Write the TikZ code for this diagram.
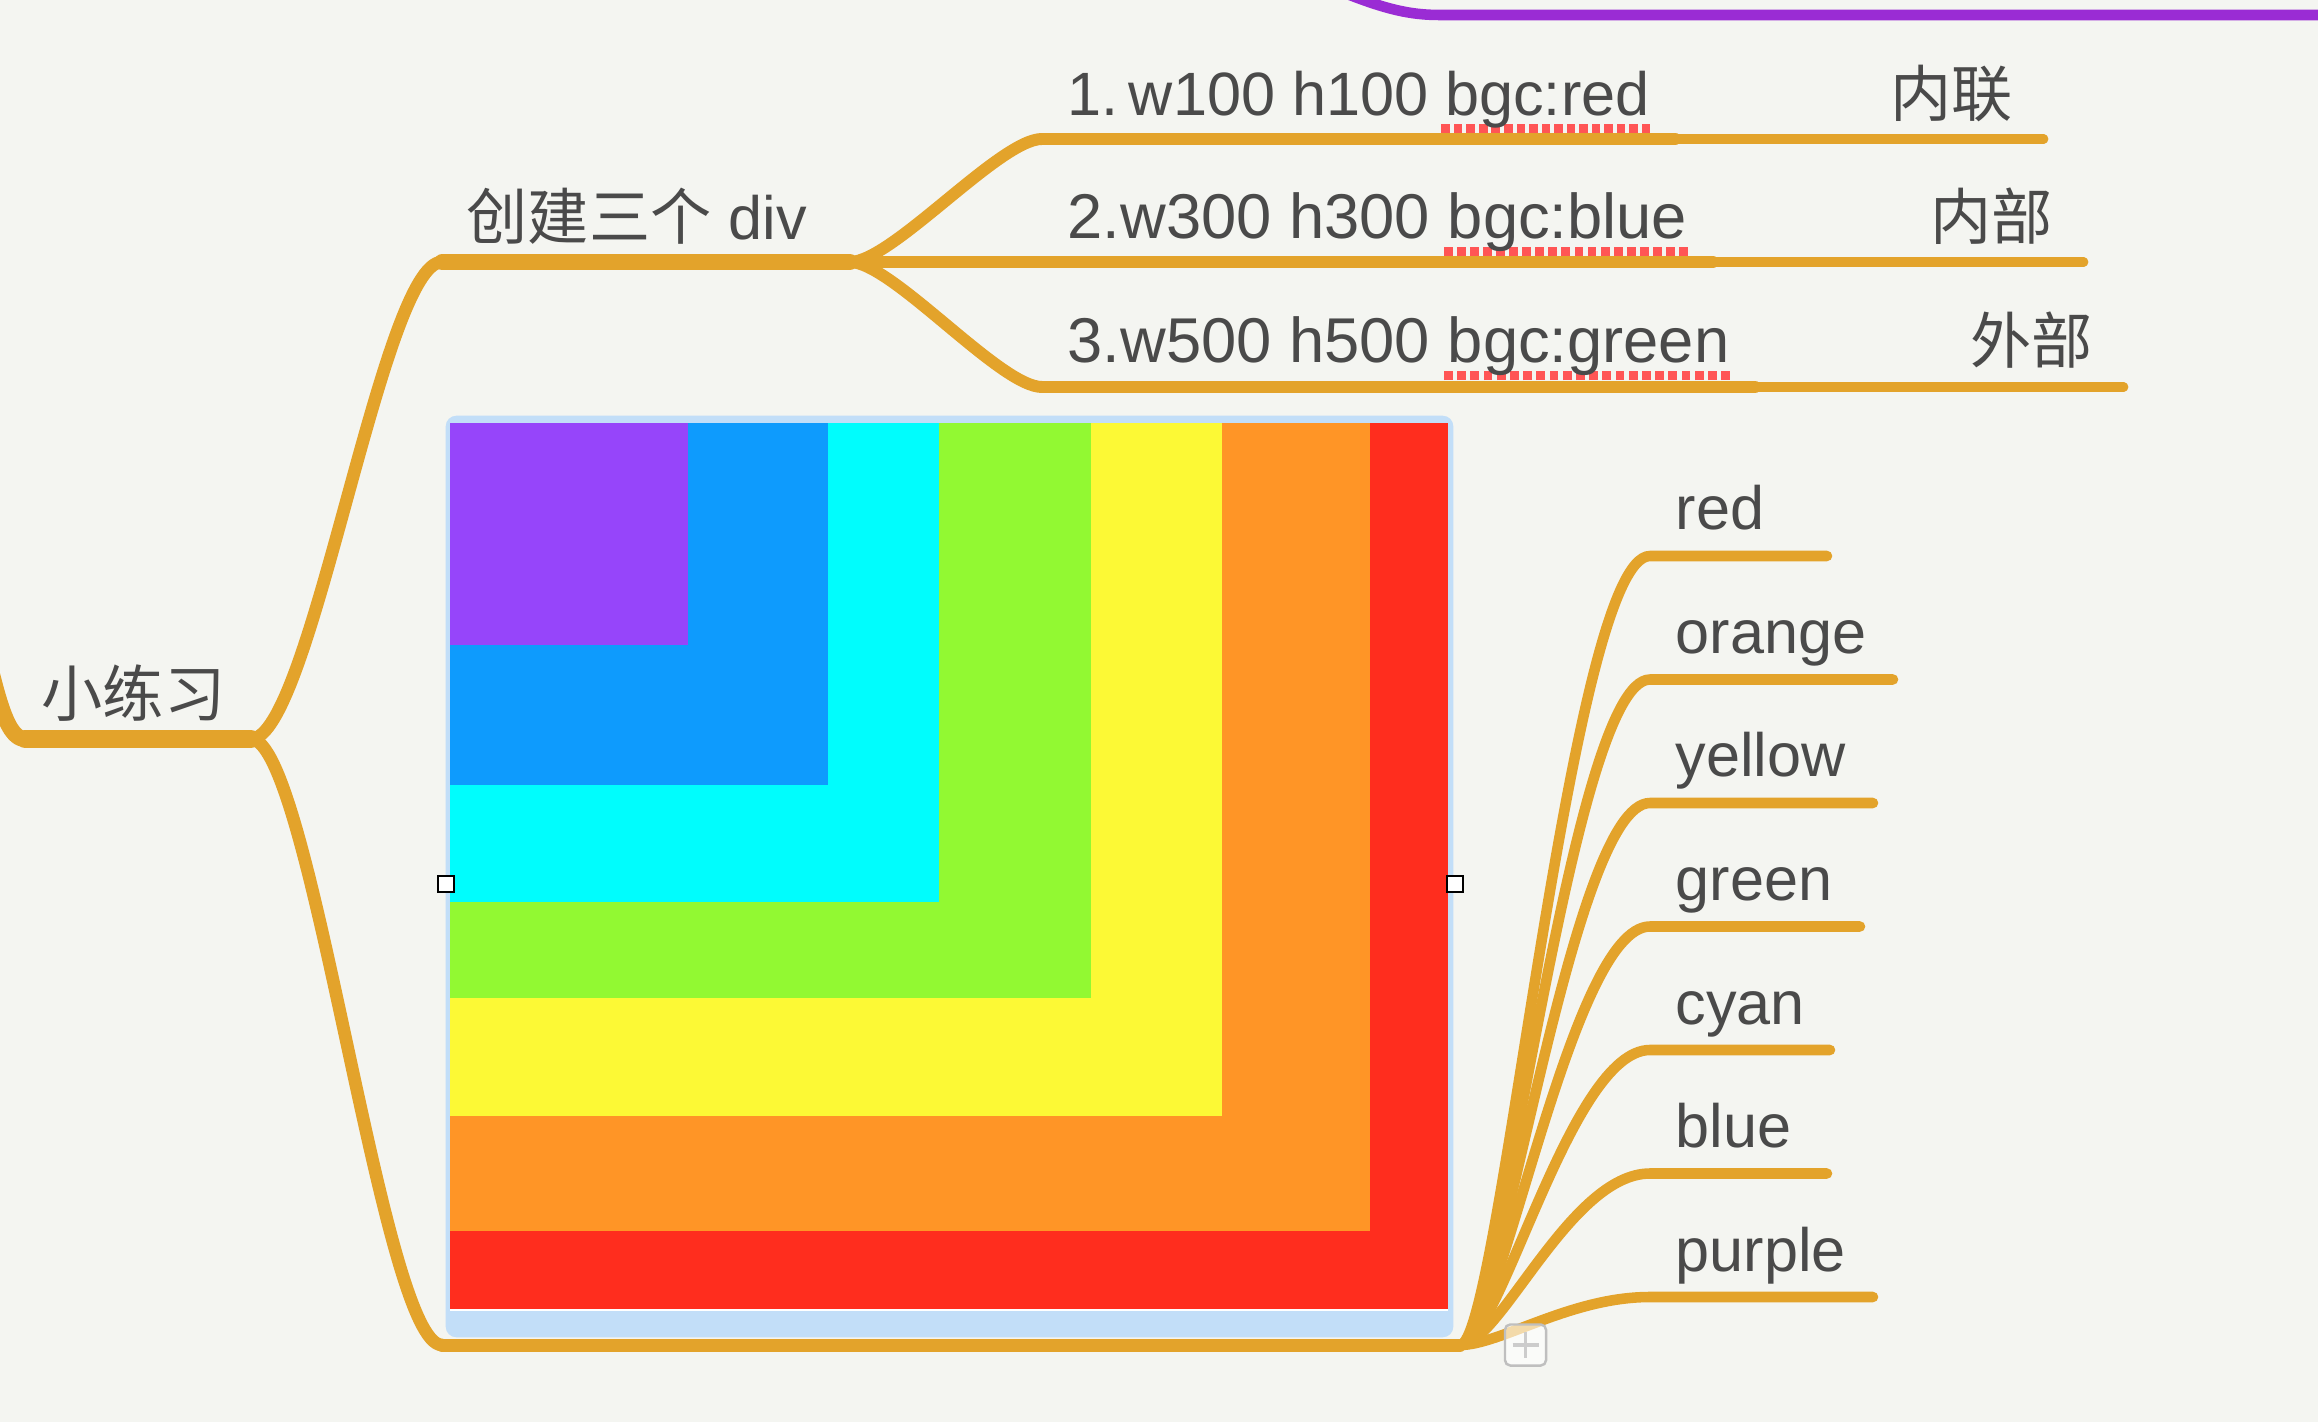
\documentclass[tikz,border=0pt]{standalone}
\usepackage{fontspec}
\setmainfont{Liberation Sans}
\newfontfamily\cjk{Noto Sans CJK SC}
\definecolor{canvas}{HTML}{F4F5F1}
\definecolor{mapgold}{HTML}{E3A32B}
\definecolor{ink}{HTML}{4A4A4A}
\definecolor{topline}{HTML}{9A2CD4}
\definecolor{frame}{HTML}{C2DEF8}
\definecolor{spell}{HTML}{FF5555}
\definecolor{boxred}{HTML}{FF2D1E}
\definecolor{boxorange}{HTML}{FF9526}
\definecolor{boxyellow}{HTML}{FCF935}
\definecolor{boxgreen}{HTML}{92F932}
\definecolor{boxcyan}{HTML}{00FDFD}
\definecolor{boxblue}{HTML}{0E9BFD}
\definecolor{boxpurple}{HTML}{9645FA}
% red dots of the spell checker under a word
\newcommand\spellmark[1]{\setbox0\hbox{#1}\rlap{\kern-0.1em\raisebox{-0.27em}{\color{spell}\hbox to\dimexpr\wd0+0.15em\relax{\xleaders\hbox to 0.2em{\hss\rule{0.14em}{0.14em}\hss}\hfill}}}\box0}
\tikzset{
  topic/.style = {anchor=base west, inner sep=0pt, text=ink, font=\fontsize{17.4pt}{20pt}\selectfont},
  wide/.style = {font=\fontsize{18pt}{20pt}\selectfont},
  branch/.style = {draw=mapgold, line cap=round, line join=round},
  twig/.style = {branch, line width=3pt},
  handle/.style = {draw=black, fill=white, line width=0.6pt, minimum size=0.16cm, inner sep=0pt},
  plusbtn/.style = {draw=black!25, fill=white, fill opacity=0.6, rounded corners=1.5pt, line width=0.7pt, minimum size=0.41cm, inner sep=0pt}
}
\begin{document}
\begin{tikzpicture}[x=0.01cm, y=-0.01cm]
  \path[use as bounding box, fill=canvas] (0,0) rectangle (2318,1422);
  \clip (0,0) rectangle (2318,1422);

  % ends of the branches
  \coordinate (rootIn) at (-25,600);
  \coordinate (rootL) at (25,739);
  \coordinate (rootR) at (251,739);
  \coordinate (divL) at (442,262);
  \coordinate (divR) at (850,262);
  \coordinate (picL) at (442,1345);
  \coordinate (picR) at (1460,1345);
  \coordinate (a1) at (1042,139);
  \coordinate (a2) at (1042,262);
  \coordinate (a3) at (1042,387);
  \coordinate (topA) at (1290,-30);
  \coordinate (topB) at (1440,15);
  \coordinate (topC) at (2330,15);

  \draw[topline, line width=3pt] (topA) .. controls (1370,5) and (1400,15) .. (topB) -- (topC);

  % the picture of nested boxes
  \node[fill=frame, rounded corners=3pt, minimum width=10.07cm, minimum height=9.21cm, inner sep=0pt] (pic) at (949.5,876.5) {};
  \foreach \fc/\x/\y in {boxred/1448/1309, boxorange/1370/1231, boxyellow/1222/1116,
      boxgreen/1091/998, boxcyan/939/902, boxblue/828/785, boxpurple/688/645}
    \fill[\fc] (450,423) rectangle (\x,\y);
  \draw[white, line width=0.5pt] (450,1310) -- (1448,1310);
  \node[handle] (hl) at (446,884) {};
  \node[handle] (hr) at (1455,884) {};

  % texts
  \node[topic] (root) at (41,717) {\cjk 小练习};
  \node[topic] (div) at (466,240) {{\cjk 创建三个} div};
  \node[topic] (t1) at (1067,116) {1.\,w100 h100 \spellmark{bgc:red}};
  \node[topic, wide] (t2) at (1067,239) {2.w300 h300 \spellmark{bgc:blue}};
  \node[topic, wide] (t3) at (1067,363) {3.w500 h500 \spellmark{bgc:green}};
  \node[topic] (m1) at (1890,117) {\cjk 内联};
  \node[topic] (m2) at (1930,240) {\cjk 内部};
  \node[topic] (m3) at (1970,364) {\cjk 外部};

  % branches
  \draw[branch, line width=4.6pt] (rootIn) .. controls (-5,690) and (5,739) .. (rootL);
  \draw[branch, line width=5pt] (rootL) -- (rootR);
  \draw[branch, line width=3.6pt] (rootR) .. controls +(60,0) and +(-60,0) .. (divL);
  \draw[branch, line width=3.6pt] (rootR) .. controls +(60,0) and +(-60,0) .. (picL);
  \draw[branch, line width=4.5pt] (divL) -- (divR);
  \draw[branch, line width=3.7pt] (picL) -- (picR);
  \foreach \i in {1,2,3} {
    \coordinate (e\i) at (t\i.east |- a\i);
    \coordinate (f\i) at (m\i.east |- a\i);
    \draw[branch, line width=3.4pt] (divR) .. controls +(42,0) and +(-42,0) .. (a\i) -- ([xshift=0.25cm]e\i);
    \draw[branch, line width=2.6pt] ([xshift=0.25cm]e\i) -- ([xshift=0.3cm]f\i);
  }
  \foreach \clr/\len [count=\i from 0] in {red/1827, orange/1893, yellow/1873, green/1860,
      cyan/1830, blue/1827, purple/1873} {
    \coordinate (c\i) at (1650,{556+123.5*\i});
    \coordinate (d\i) at (\len,{556+123.5*\i});
    \node[topic] (l\i) at (1675,{530+123.5*\i}) {\clr};
    \draw[twig] (picR) .. controls +(40,0) and +(-80,0) .. (c\i) -- (d\i);
  }

  \node[plusbtn] (plus) at (1525.5,1345) {};
  \draw[black!20, line width=1pt] (plus.center) +(-13,0) -- +(13,0) (plus.center) +(0,-13) -- +(0,13);
\end{tikzpicture}
\end{document}
